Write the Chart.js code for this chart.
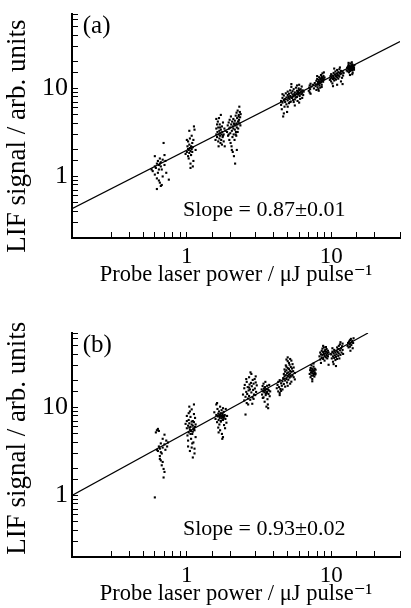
<!DOCTYPE html>
<html>
<head>
<meta charset="utf-8">
<script src="https://cdn.jsdelivr.net/npm/chart.js@4"></script>
<style>
  html, body { margin: 0; padding: 0; background: #fff; overflow: hidden; }
  .panel { position: absolute; left: 0; }
</style>
</head>
<body>
<div class="panel" style="top:-19px"><canvas id="chart_a" width="411" height="308"></canvas></div>
<div class="panel" style="top:300px"><canvas id="chart_b" width="411" height="308"></canvas></div>
<script>
// probe laser power (uJ/pulse) vs LIF signal
const panelAPoints = [
  // ~0.65 uJ
  [0.58,1.15],[0.6,1.3],[0.6,1.7],[0.61,1.25],[0.62,1.4],[0.62,0.95],[0.63,1.1],[0.63,1.5],[0.64,1.2],[0.64,1.35],
  [0.65,0.85],[0.65,1.6],[0.66,1.3],[0.66,1.45],[0.67,0.8],[0.67,1.2],[0.68,1.0],[0.68,1.55],[0.69,2.4],[0.7,1.35],
  [0.7,1.75],[0.72,1.1],[0.62,0.72],[0.64,0.9],[0.66,0.78],[0.75,0.92],[0.57,1.2],[0.6,1.05],[0.65,1.4],[0.71,1.5],
  // ~1.05 uJ
  [1.0,1.9],[1.01,2.2],[1.02,1.7],[1.02,2.5],[1.03,2.0],[1.03,1.6],[1.04,2.3],[1.04,1.85],[1.05,2.1],[1.05,2.7],
  [1.06,1.95],[1.06,1.4],[1.07,2.2],[1.07,1.75],[1.08,2.05],[1.08,2.9],[1.09,1.9],[1.09,2.4],[1.1,2.15],[1.1,1.3],
  [1.11,2.6],[1.12,3.7],[1.13,3.4],[1.04,3.3],[1.06,1.25],[1.0,2.6],[1.11,1.5],[1.02,2.05],[1.15,2.0],[0.98,1.8],
  // ~1.7 uJ
  [1.58,2.6],[1.6,3.0],[1.6,3.5],[1.62,2.8],[1.63,3.2],[1.64,4.2],[1.65,2.5],[1.65,3.6],[1.66,3.0],[1.67,4.6],
  [1.68,2.7],[1.68,3.3],[1.69,3.9],[1.7,2.9],[1.7,3.1],[1.71,2.4],[1.72,3.4],[1.72,5.0],[1.73,2.6],[1.74,3.0],
  [1.75,3.7],[1.75,2.3],[1.76,3.2],[1.77,2.8],[1.78,4.1],[1.8,3.0],[1.8,2.5],[1.82,3.5],[1.83,2.2],[1.85,3.3],
  [1.62,3.9],[1.66,2.2],[1.7,3.6],[1.78,2.9],[1.6,4.5],
  // ~2.2 uJ
  [1.9,3.2],[1.92,3.8],[1.93,2.9],[1.95,4.1],[1.96,3.5],[1.97,2.6],[1.98,4.4],[2.0,3.6],[2.0,3.1],[2.01,2.4],
  [2.02,4.8],[2.03,3.9],[2.04,2.2],[2.05,3.3],[2.06,4.2],[2.07,2.8],[2.08,3.7],[2.08,1.9],[2.1,3.5],[2.1,4.5],
  [2.11,3.0],[2.12,1.7],[2.13,3.9],[2.14,2.6],[2.15,4.3],[2.15,3.4],[2.16,1.4],[2.17,3.8],[2.18,4.9],[2.19,3.2],
  [2.2,4.0],[2.2,2.9],[2.21,5.3],[2.22,3.6],[2.23,4.6],[2.24,3.9],[2.25,5.6],[2.26,4.2],[2.27,3.5],[2.28,4.8],
  [2.29,5.0],[2.3,4.4],[2.31,6.2],[2.32,4.0],[2.33,5.4],[2.34,4.7],[2.35,3.8],[2.36,5.1],[2.22,2.0],[2.05,2.0],
  [1.95,3.0],[2.12,4.0],[2.28,4.2],[2.18,3.0],[2.25,3.2],
  // ~5.5 uJ
  [4.5,7.2],[4.5,6.5],[4.55,5.8],[4.6,7.8],[4.6,6.9],[4.65,4.8],[4.7,7.4],[4.7,8.3],[4.75,6.2],[4.8,7.6],
  [4.8,7.0],[4.85,8.8],[4.9,6.6],[4.9,7.9],[4.95,5.4],[5.0,8.4],[5.0,7.3],[5.0,9.2],[5.05,8.0],[5.1,6.8],
  [5.1,8.7],[5.15,7.6],[5.2,9.5],[5.2,8.2],[5.25,7.1],[5.3,8.9],[5.3,10.4],[5.35,7.8],[5.4,8.5],[5.4,9.3],
  [5.45,7.4],[5.5,8.1],[5.5,9.8],[5.55,8.6],[5.6,7.5],[5.6,9.0],[5.65,8.3],[5.7,10.2],[5.7,7.9],[5.75,8.8],
  [5.8,9.4],[5.8,8.0],[5.85,7.2],[5.9,9.1],[5.9,8.5],[5.95,10.0],[6.0,8.7],[6.0,9.6],[6.05,8.2],[6.1,9.0],
  [6.1,7.6],[6.15,9.8],[6.2,8.6],[6.2,9.3],[6.25,10.5],[6.3,8.9],[6.35,9.5],[6.4,8.4],[6.45,9.2],[5.3,11.2],
  [5.6,6.4],[6.0,6.9],[4.7,5.2],[5.2,7.0],[5.5,7.0],[5.8,10.8],[4.6,8.6],[6.3,7.8],[5.0,6.2],[6.0,11.0],
  // ~8 uJ
  [7.0,9.4],[7.05,10.2],[7.1,9.0],[7.1,10.8],[7.15,9.8],[7.2,11.3],[7.2,8.7],[7.3,10.5],[7.6,10.0],[7.7,11.5],
  [7.8,10.6],[7.9,12.2],[7.9,9.6],[8.0,11.0],[8.0,12.8],[8.05,10.3],[8.1,11.8],[8.15,9.8],[8.2,12.5],[8.2,11.2],
  [8.25,13.4],[8.3,10.8],[8.3,12.0],[8.35,11.5],[8.4,13.0],[8.4,10.2],[8.45,12.6],[8.5,11.7],[8.5,14.2],[8.55,12.2],
  [8.6,13.5],[8.6,11.0],[8.65,12.9],[8.7,14.8],[8.7,12.4],[8.75,13.2],[8.8,11.9],[8.85,13.8],[8.9,12.7],[8.9,15.2],
  [9.0,13.3],[8.2,9.4],[8.6,10.4],[7.5,11.0],[8.0,13.8],
  // ~11 uJ
  [9.8,12.5],[9.9,13.8],[10.0,12.0],[10.0,14.5],[10.1,13.2],[10.2,11.4],[10.2,14.0],[10.3,12.8],[10.4,15.0],[10.4,13.5],
  [10.5,12.3],[10.6,14.4],[10.6,13.0],[10.7,15.6],[10.8,13.8],[10.8,12.6],[10.9,14.8],[11.0,13.4],[11.0,16.2],[11.1,14.2],
  [11.2,12.9],[11.2,15.3],[11.3,14.0],[11.4,16.5],[11.4,13.6],[11.5,15.0],[11.6,14.5],[11.7,12.0],[11.7,15.8],[11.8,14.8],
  [11.9,13.2],[12.0,15.5],[12.0,11.2],[12.1,14.0],[10.3,10.6],[11.0,11.0],[10.5,16.8],[11.5,17.3],[9.9,12.9],[12.2,15.0],
  // ~13.7 uJ
  [12.8,16.0],[12.9,17.2],[13.0,15.6],[13.0,16.8],[13.1,17.8],[13.2,16.3],[13.2,18.5],[13.3,15.2],[13.3,17.0],[13.4,16.6],
  [13.4,18.0],[13.5,17.4],[13.5,15.8],[13.6,16.9],[13.6,19.2],[13.7,17.6],[13.7,16.2],[13.8,18.3],[13.8,17.0],[13.9,16.5],
  [13.9,17.9],[14.0,18.8],[14.0,16.0],[14.1,17.3],[14.1,15.1],[14.2,18.0],[14.2,16.7],[14.3,17.5],[14.4,16.3],[14.5,18.4],
  [13.5,14.2],[14.0,14.5],[13.2,19.5],[13.9,19.8],[14.4,17.1]
];

const panelBPoints = [
  // ~0.65 uJ
  [0.6,0.95],[0.61,5.2],[0.62,5.5],[0.63,5.7],[0.64,5.4],[0.63,3.2],[0.64,3.6],[0.65,2.8],[0.65,3.4],[0.66,2.5],
  [0.66,3.9],[0.67,2.2],[0.67,3.0],[0.68,4.4],[0.68,3.5],[0.69,2.0],[0.69,1.6],[0.7,3.8],[0.7,4.9],[0.71,3.3],
  [0.72,4.2],[0.73,3.6],[0.65,2.6],[0.66,3.1],[0.68,2.4],[0.62,3.3],[0.7,1.85],[0.74,4.0],
  // ~1.07 uJ
  [0.98,6.5],[1.0,5.8],[1.0,8.0],[1.01,4.8],[1.02,6.2],[1.02,3.6],[1.03,7.2],[1.03,5.2],[1.04,10.2],[1.04,6.6],
  [1.05,5.6],[1.05,3.2],[1.06,7.8],[1.06,6.0],[1.07,4.4],[1.07,5.4],[1.08,9.5],[1.08,6.4],[1.09,5.0],[1.09,3.9],
  [1.1,7.0],[1.1,6.2],[1.1,2.7],[1.11,5.8],[1.11,4.0],[1.12,6.8],[1.12,10.8],[1.13,5.5],[1.13,3.4],[1.14,6.0],
  [1.14,7.6],[1.15,4.6],[1.05,9.0],[1.02,4.2],[1.08,3.5],[1.12,8.4],[1.0,7.0],[1.06,5.0],[1.1,5.3],[1.15,6.4],
  [1.04,5.9],[1.08,6.9],[1.12,5.6],[1.03,8.6],[1.13,3.0],
  // ~1.75 uJ
  [1.55,8.8],[1.58,7.4],[1.6,10.8],[1.6,8.2],[1.62,6.8],[1.63,9.6],[1.64,7.9],[1.65,8.5],[1.65,5.9],[1.66,7.2],
  [1.67,9.0],[1.68,8.0],[1.68,6.4],[1.69,7.6],[1.7,8.3],[1.7,5.5],[1.71,7.9],[1.72,8.6],[1.72,6.9],[1.73,8.1],
  [1.74,7.5],[1.74,9.3],[1.75,8.0],[1.75,5.0],[1.76,7.7],[1.77,8.4],[1.78,7.2],[1.78,4.6],[1.79,8.0],[1.8,7.6],
  [1.8,8.9],[1.81,6.3],[1.82,7.9],[1.83,8.2],[1.85,7.4],[1.86,9.6],[1.88,6.7],[1.9,8.0],[1.62,11.2],[1.7,10.2],
  [1.76,4.4],[1.66,5.2],[1.84,5.8],[1.72,7.0],[1.78,9.8],
  // ~2.75 uJ
  [2.45,14.0],[2.5,16.5],[2.5,12.0],[2.52,18.0],[2.55,13.2],[2.55,8.3],[2.58,15.0],[2.6,19.5],[2.6,11.2],[2.62,14.2],
  [2.64,17.0],[2.65,12.6],[2.68,15.6],[2.7,22.0],[2.7,13.5],[2.72,18.2],[2.74,16.0],[2.75,12.2],[2.78,19.0],[2.8,14.8],
  [2.8,24.0],[2.82,17.4],[2.85,13.0],[2.86,20.5],[2.88,15.8],[2.9,18.6],[2.92,14.0],[2.95,21.0],[2.96,16.4],[3.0,19.2],
  [3.02,15.0],[3.05,17.8],[2.58,21.0],[2.66,10.8],[2.76,25.0],[2.9,12.5],[3.0,22.5],[2.7,16.8],[2.84,11.0],[2.98,13.8],
  // ~3.5 uJ
  [3.3,16.0],[3.32,14.0],[3.35,17.5],[3.38,15.2],[3.4,13.0],[3.4,18.6],[3.42,16.4],[3.45,14.8],[3.46,11.6],[3.48,17.0],
  [3.5,15.5],[3.5,19.5],[3.52,13.8],[3.55,16.2],[3.56,10.2],[3.58,14.6],[3.6,17.6],[3.6,15.0],[3.62,12.4],[3.65,16.0],
  [3.66,9.8],[3.68,14.2],[3.7,15.6],[3.72,18.0],[3.75,13.4],[3.78,15.2],[3.44,15.6],[3.54,14.4],[3.64,10.8],[3.36,12.8],
  // ~4.9 uJ
  [4.2,16.5],[4.25,18.0],[4.3,15.2],[4.3,19.5],[4.35,17.0],[4.4,14.6],[4.4,20.4],[4.45,16.2],[4.5,18.8],[4.5,15.4],
  [4.55,17.6],[4.6,19.8],[4.65,21.5],[4.7,24.0],[4.7,18.4],[4.75,22.6],[4.75,27.0],[4.8,20.2],[4.8,25.5],[4.85,23.2],
  [4.85,30.0],[4.9,21.0],[4.9,26.4],[4.95,24.4],[4.95,19.2],[5.0,28.0],[5.0,22.8],[5.0,33.5],[5.05,25.0],[5.05,20.6],
  [5.1,27.2],[5.1,23.6],[5.15,30.5],[5.15,21.8],[5.2,26.0],[5.2,24.2],[5.25,28.8],[5.25,22.4],[5.3,25.4],[5.3,19.6],
  [5.35,27.6],[5.4,23.0],[5.4,31.0],[5.45,25.8],[5.5,22.0],[5.5,28.4],[4.9,35.0],[5.0,37.0],[5.2,18.6],[4.6,16.0],
  [5.6,24.6],[4.8,17.2],[5.1,32.0],[4.7,21.2],[5.3,34.0],[4.4,13.8],[5.6,20.8],[5.0,17.6],[4.9,29.0],[5.2,35.5],
  // ~7.5 uJ
  [7.1,24.0],[7.15,26.5],[7.2,22.0],[7.2,28.0],[7.25,25.0],[7.3,23.0],[7.3,30.0],[7.35,26.0],[7.4,24.5],[7.4,21.0],
  [7.45,27.2],[7.5,25.5],[7.5,23.0],[7.55,29.0],[7.6,26.2],[7.6,24.0],[7.65,22.4],[7.7,27.5],[7.7,25.0],[7.75,23.6],
  [7.8,26.8],[7.4,19.8],[7.55,31.5],[7.8,24.2],[7.3,27.6],
  // ~9 uJ
  [8.3,38.0],[8.4,42.0],[8.4,35.0],[8.5,40.0],[8.6,44.0],[8.6,37.0],[8.7,46.5],[8.7,39.5],[8.8,42.5],[8.8,35.5],
  [8.9,48.0],[8.9,40.5],[9.0,43.5],[9.0,38.5],[9.1,45.0],[9.1,41.0],[9.2,37.0],[9.2,43.0],[9.3,39.5],[9.3,46.0],
  [9.4,41.5],[9.5,44.0],[9.5,38.0],[9.6,42.0],[8.5,32.0],[9.0,34.0],[8.8,50.0],[9.4,36.0],[9.6,30.5],[9.2,48.5],
  // ~11 uJ
  [10.0,40.0],[10.1,36.0],[10.2,43.0],[10.3,38.0],[10.3,33.0],[10.4,41.0],[10.5,36.5],[10.5,45.0],[10.6,39.0],[10.7,34.5],
  [10.7,42.0],[10.8,37.5],[10.9,44.0],[10.9,40.0],[11.0,35.5],[11.0,48.0],[11.1,42.5],[11.2,38.5],[11.2,46.0],[11.3,41.0],
  [11.3,50.0],[11.4,36.0],[11.5,44.5],[11.5,52.0],[11.6,39.5],[11.7,47.0],[11.8,42.0],[11.9,49.5],[12.0,45.0],[12.0,53.0],
  [10.4,31.0],[10.8,29.5],[11.6,55.0],[12.1,40.5],[10.2,47.0],
  // ~13.6 uJ
  [13.0,50.0],[13.1,54.0],[13.2,48.0],[13.3,56.0],[13.4,52.0],[13.5,58.0],[13.5,49.0],[13.6,53.5],[13.7,60.0],[13.8,51.0],
  [13.9,55.0],[14.0,57.0],[14.1,47.0],[14.2,54.0],[13.6,44.0],[14.3,61.0]
];

// fitted power-law lines (end points)
const fitAX = [0.16, 30];
const fitAY = [0.43, 34];
const fitBX = [0.16, 18];
const fitBY = [1.0, 70];

const xMin = 0.16, xMax = 30;
const yMin = 0.2, yMax = 70;
const tickLabels = [1, 10];

const serif = "'Liberation Serif', 'DejaVu Serif', serif";

// text inside the plot (letter + slope)
const panelText = {
  id: "panelText",
  afterDraw(chart, args, opts) {
    const ctx = chart.ctx;
    const xs = chart.scales.x, ys = chart.scales.y;
    ctx.save();
    ctx.fillStyle = "#000";
    ctx.textBaseline = "middle";
    ctx.textAlign = "left";
    ctx.font = "25px " + serif;
    ctx.fillText(opts.letter, xs.getPixelForValue(0.19), ys.getPixelForValue(50));
    ctx.font = "22px " + serif;
    ctx.fillText(opts.slope, xs.getPixelForValue(0.94), ys.getPixelForValue(0.41));
    ctx.restore();
  }
};

// no extra room for half tick labels: chart area is set by layout padding only
function noPad(s) {
  s.paddingTop = 0;
  s.paddingBottom = 0;
  s.paddingLeft = 0;
  s.paddingRight = 0;
}

function makePanel(id, points, fitX, fitY, letter, slope, yTitle) {
  const ctx = document.getElementById(id).getContext("2d");
  return new Chart(ctx, {
    type: "scatter",
    data: {
      datasets: [
        {
          label: "data",
          data: points.map((pt) => ({ x: pt[0], y: pt[1] })),
          pointStyle: "rect",
          pointRadius: 1.5,
          pointBorderWidth: 0,
          backgroundColor: "#000",
        },
        {
          type: "line",
          label: "fit",
          data: fitX.map((v, i) => ({ x: v, y: fitY[i] })),
          borderColor: "#000",
          borderWidth: 1.2,
          pointRadius: 0,
          fill: false,
        },
      ],
    },
    options: {
      responsive: false,
      animation: false,
      layout: { padding: { top: 33, right: 11, left: 0, bottom: 0 } },
      plugins: {
        legend: { display: false },
        tooltip: { enabled: false },
        panelText: { letter: letter, slope: slope },
      },
      scales: {
        x: {
          type: "logarithmic",
          min: xMin,
          max: xMax,
          afterFit: (s) => { s.height = 51; noPad(s); },
          border: { color: "#000", width: 2 },
          grid: { drawOnChartArea: false, tickLength: -6, tickColor: "#000", tickWidth: 1 },
          ticks: {
            autoSkip: false,
            maxRotation: 0,
            padding: 11,
            color: "#000",
            font: { family: serif, size: 23 },
            callback: (v) => (tickLabels.includes(v) ? String(v) : ""),
          },
          title: {
            display: true,
            text: "Probe laser power / \u03bcJ pulse\u207b\u00b9",
            color: "#000",
            font: { family: serif, size: 22.5 },
            padding: { top: 0, bottom: 0 },
          },
        },
        y: {
          type: "logarithmic",
          min: yMin,
          max: yMax,
          afterFit: (s) => { s.width = 72; noPad(s); },
          border: { color: "#000", width: 2 },
          grid: { drawOnChartArea: false, tickLength: -6, tickColor: "#000", tickWidth: 1 },
          ticks: {
            autoSkip: false,
            padding: 10,
            color: "#000",
            font: { family: serif, size: 26 },
            callback: (v) => (tickLabels.includes(v) ? String(v) : ""),
          },
          title: {
            display: true,
            text: yTitle,
            color: "#000",
            font: { family: serif, size: 27 },
            padding: { top: 2, bottom: 0 },
          },
        },
      },
    },
    plugins: [panelText],
  });
}

makePanel("chart_a", panelAPoints, fitAX, fitAY, "(a)", "Slope = 0.87\u00b10.01", "LIF signal / arb. units   ");
makePanel("chart_b", panelBPoints, fitBX, fitBY, "(b)", "Slope = 0.93\u00b10.02", "  LIF signal / arb. units");
</script>
</body>
</html>
